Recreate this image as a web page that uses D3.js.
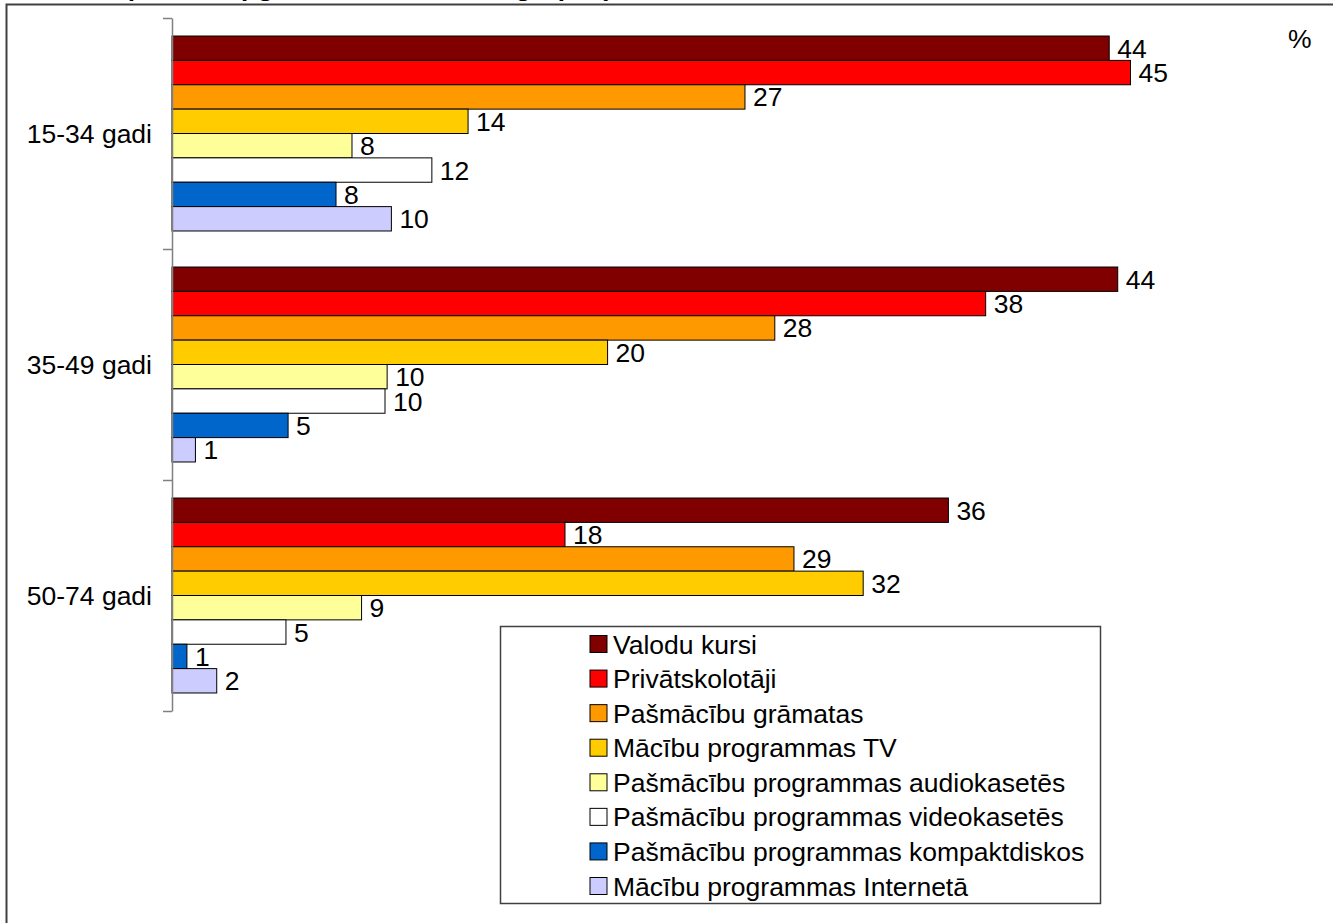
<!DOCTYPE html>
<html>
<head>
<meta charset="utf-8">
<script src="https://cdn.jsdelivr.net/npm/d3@7"></script>
<style>
  html, body { margin: 0; padding: 0; background: #fff; }
  svg { display: block; font-family: "Liberation Sans", Arial, sans-serif; }
</style>
</head>
<body>
<svg id="chart" width="1333" height="923"></svg>
<script>
// ---- data ----
const ageGroups = ["15-34 gadi", "35-49 gadi", "50-74 gadi"];
const seriesNames = [
  "Valodu kursi",
  "Privātskolotāji",
  "Pašmācību grāmatas",
  "Mācību programmas TV",
  "Pašmācību programmas audiokasetēs",
  "Pašmācību programmas videokasetēs",
  "Pašmācību programmas kompaktdiskos",
  "Mācību programmas Internetā"
];
const values15_34 = [44.0, 45.0, 26.9, 13.9, 8.45, 12.2, 7.7, 10.3];
const values35_49 = [44.4, 38.2, 28.3, 20.45, 10.1, 10.0, 5.45, 1.1];
const values50_74 = [36.45, 18.45, 29.2, 32.45, 8.9, 5.35, 0.7, 2.1];
const seriesColors = ["#800000", "#FF0000", "#FF9900", "#FFCC00", "#FFFF99", "#FFFFFF", "#0066CC", "#CCCCFF"];
const unitLabel = "%";
const titleText = "(valodu apguves veidi vecuma grupās)";

const groupValues = [values15_34, values35_49, values50_74];
const rows = [];
ageGroups.forEach((g, gi) => {
  seriesNames.forEach((s, si) => {
    rows.push({ group: g, series: s, value: groupValues[gi][si], color: seriesColors[si] });
  });
});

// ---- drawing ----
const svg = d3.select("#chart");
const FONT = 26.5;

// cut-off title
svg.append("text")
  .attr("x", 127).attr("y", -4)
  .attr("font-size", FONT).attr("font-weight", "bold").attr("font-style", "italic")
  .text(titleText);

// outer frame (extends past the image right/bottom)
svg.append("rect")
  .attr("x", 6.5).attr("y", 4.5)
  .attr("width", 1400).attr("height", 1000)
  .attr("fill", "none").attr("stroke", "#404040").attr("stroke-width", 2);

const y = d3.scaleBand()
  .domain(ageGroups)
  .range([18, 711])
  .paddingInner(0.156)
  .paddingOuter(0.078);

const ySub = d3.scaleBand()
  .domain(seriesNames)
  .range([0, y.bandwidth()])
  .padding(0);

const x = d3.scaleLinear().domain([0, 50]).range([172, 1237]);

// bars
const g = svg.append("g");
g.selectAll("rect.bar")
  .data(rows)
  .join("rect")
  .attr("class", "bar")
  .attr("x", x(0))
  .attr("y", d => y(d.group) + ySub(d.series))
  .attr("width", d => x(d.value) - x(0))
  .attr("height", ySub.bandwidth())
  .attr("fill", d => d.color)
  .attr("stroke", "#000")
  .attr("stroke-width", 1);

// value labels
g.selectAll("text.val")
  .data(rows)
  .join("text")
  .attr("class", "val")
  .attr("x", d => x(d.value) + 8)
  .attr("y", d => y(d.group) + ySub(d.series) + ySub.bandwidth() / 2)
  .attr("dy", "0.36em")
  .attr("font-size", FONT)
  .attr("fill", "#000")
  .text(d => Math.round(d.value));

// category axis (ticks at band boundaries)
const r = y.range();
const step = y.step();
const axisScale = d3.scaleLinear().domain([0, ageGroups.length]).range([r[0], r[0] + ageGroups.length * step]);
const axisG = svg.append("g").attr("transform", `translate(${x(0)},0)`)
  .call(d3.axisLeft(axisScale).tickValues(d3.range(ageGroups.length + 1)).tickSize(9).tickSizeOuter(0).tickFormat(""));
axisG.selectAll("path, line").attr("stroke", "#808080").attr("stroke-width", 1.5);

// category labels
svg.selectAll("text.cat")
  .data(ageGroups)
  .join("text")
  .attr("class", "cat")
  .attr("x", 152)
  .attr("y", d => y(d) + y.bandwidth() / 2)
  .attr("dy", "0.36em")
  .attr("text-anchor", "end")
  .attr("font-size", FONT)
  .text(d => d);

// unit label
svg.append("text")
  .attr("x", 1288).attr("y", 48)
  .attr("font-size", FONT)
  .text(unitLabel);

// legend
const lg = svg.append("g");
lg.append("rect")
  .attr("x", 500.5).attr("y", 626.5)
  .attr("width", 600).attr("height", 277)
  .attr("fill", "#fff").attr("stroke", "#404040").attr("stroke-width", 1.5);
const legendY = d3.scalePoint().domain(seriesNames).range([644, 886]);
const items = lg.selectAll("g.item")
  .data(seriesNames)
  .join("g")
  .attr("class", "item")
  .attr("transform", d => `translate(0,${legendY(d)})`);
items.append("rect")
  .attr("x", 590).attr("y", -8.5)
  .attr("width", 17).attr("height", 17)
  .attr("fill", (d, i) => seriesColors[i])
  .attr("stroke", "#000").attr("stroke-width", 1);
items.append("text")
  .attr("x", 613).attr("y", 0)
  .attr("dy", "0.36em")
  .attr("font-size", FONT)
  .text(d => d);
</script>
</body>
</html>
